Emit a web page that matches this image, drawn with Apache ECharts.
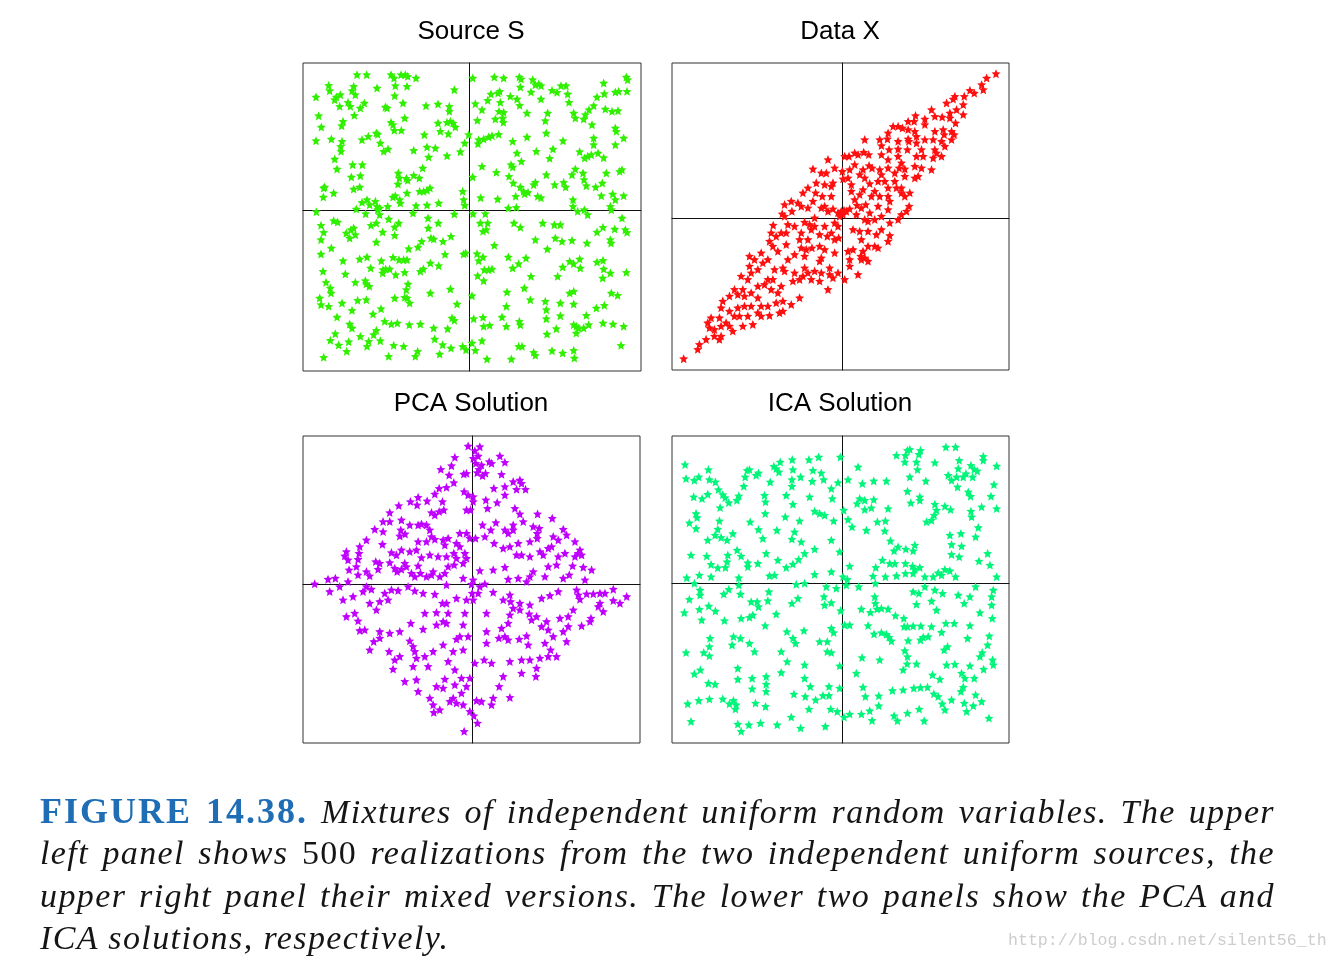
<!DOCTYPE html>
<html>
<head>
<meta charset="utf-8">
<script src="https://cdn.jsdelivr.net/npm/echarts@6/dist/echarts.min.js"></script>
<style>
html,body{margin:0;padding:0;background:#fff;overflow:hidden}
#chart{position:absolute;left:0;top:0;width:1339px;height:959px}
#cap{position:absolute;left:40px;top:790px;width:1235px;font-family:"Liberation Serif",serif;font-style:italic;font-size:34px;line-height:42.3px;color:#151515;letter-spacing:1.4px}
.ln{white-space:nowrap;height:42.3px}
#cap b{font-style:normal;font-weight:bold;color:#1f6db5;letter-spacing:2px;font-size:36px}
.up{font-style:normal}
#wm{position:absolute;left:1008px;top:931px;font-family:"Liberation Mono",monospace;font-size:16.6px;line-height:20px;color:#cdcdcd;white-space:nowrap}
</style>
</head>
<body>
<div id="chart"></div>
<div id="cap">
<div class="ln"><span><b>FIGURE 14.38.</b> Mixtures of independent uniform random variables. The upper</span></div>
<div class="ln"><span>left panel shows <span class="up">500</span> realizations from the two independent uniform sources, the</span></div>
<div class="ln"><span>upper right panel their mixed versions. The lower two panels show the PCA and</span></div>
<div class="ln last"><span>ICA solutions, respectively.</span></div>
</div>
<div id="wm">http://blog.csdn.net/silent56_th</div>
<script>
const panelTitles = ['Source S', 'Data X', 'PCA Solution', 'ICA Solution'];

const sourceS = [
[-337,407],[-308,407],[-235,407],[-205,407],[-192,407],[-185,402],[-160,397],[-226,397],[-422,375],[-347,372],[-277,367],[-222,374],[-187,372],[-419,359],[-352,359],[-45,362],[-460,340],[-404,332],[-387,347],[-399,340],[-342,347],[-224,344],[-364,324],[-357,312],[-389,312],[-315,322],[-327,307],[-252,310],[-247,307],[-199,322],[-130,314],[-94,319],[-60,312],[-60,297],[-452,284],[-345,285],[-194,277],[-379,267],[-383,254],[-444,250],[-235,264],[-229,257],[-225,240],[-204,240],[-94,262],[-67,264],[-57,267],[-49,262],[-42,250],[-460,209],[-414,214],[-382,207],[-386,192],[-385,177],[-322,212],[-303,222],[-279,232],[-275,228],[-267,202],[-257,177],[-244,184],[-135,227],[-87,237],[-63,230],[-14,202],[-2,227],[-127,190],[-102,187],[-167,180],[-122,160],[-67,164],[-27,176],[-404,154],[-397,124],[-350,137],[-321,137],[-354,100],[-327,104],[-213,112],[-210,97],[-189,96],[-185,90],[-167,105],[-150,97],[-140,127],[-434,70],[-437,67],[-438,40],[-407,52],[-347,64],[-329,70],[-214,79],[-149,57],[-137,57],[-127,60],[-118,67],[-20,57],[-17,32],[-322,24],[-307,32],[-299,17],[-282,27],[-277,12],[-275,2],[-269,7],[-245,12],[-229,40],[-222,44],[-209,32],[-207,22],[-187,52],[-160,14],[-127,16],[-92,22],[-14,15],[-339,4],[-459,-4],[-311,-10],[-269,-13],
[10,397],[75,400],[103,397],[150,400],[155,394],[190,392],[198,377],[208,379],[215,374],[275,374],[290,374],[403,382],[471,400],[475,392],[153,370],[185,355],[248,360],[263,354],[295,349],[91,357],[86,352],[65,349],[438,355],[448,357],[473,357],[405,350],[383,340],[18,320],[38,302],[55,330],[93,324],[123,342],[143,334],[151,315],[215,334],[299,324],[373,314],[359,302],[408,304],[428,297],[446,299],[89,297],[103,294],[100,277],[102,264],[78,274],[24,270],[173,292],[235,292],[228,269],[313,292],[318,277],[343,274],[348,287],[368,257],[438,247],[441,237],[463,217],[438,197],[373,217],[373,197],[28,212],[26,200],[43,214],[58,220],[68,224],[88,228],[130,207],[143,172],[173,220],[231,232],[281,209],[201,177],[251,184],[241,156],[331,176],[346,157],[355,162],[366,167],[386,172],[403,158],[156,147],[38,132],[81,114],[125,137],[130,130],[119,102],[10,100],[132,82],[153,70],[163,57],[176,54],[193,77],[198,84],[231,107],[256,77],[283,84],[289,70],[308,107],[318,124],[341,112],[344,92],[351,74],[379,70],[399,82],[411,112],[451,117],[458,122],[34,38],[85,34],[139,42],[166,50],[205,42],[215,38],[311,32],[311,12],[396,44],[430,49],[438,32],[463,44],[423,12],[426,2],[345,2],[117,7],[141,9],[48,-10],[11,-10],
[-407,-31],[-395,-35],[-445,-45],[-437,-66],[-369,-68],[-355,-58],[-347,-53],[-342,-73],[-359,-83],[-295,-45],[-279,-38],[-242,-26],[-212,-38],[-224,-50],[-260,-65],[-224,-75],[-169,-8],[-124,-23],[-123,-53],[-93,-38],[-115,-83],[-107,-86],[-79,-93],[-55,-78],[-45,-11],[-445,-88],[-445,-131],[-414,-113],[-379,-151],[-329,-146],[-307,-140],[-264,-151],[-279,-95],[-229,-141],[-211,-148],[-197,-148],[-187,-148],[-182,-115],[-154,-110],[-143,-93],[-117,-158],[-92,-166],[-73,-132],[-17,-131],[-11,-128],[-439,-183],[-372,-191],[-296,-173],[-259,-178],[-251,-176],[-239,-176],[-260,-188],[-221,-193],[-194,-186],[-147,-183],[-138,-176],[-430,-216],[-417,-233],[-415,-248],[-342,-216],[-312,-211],[-309,-220],[-300,-228],[-184,-221],[-189,-238],[-194,-261],[-117,-248],[-57,-236],[-449,-263],[-445,-283],[-422,-288],[-382,-278],[-335,-270],[-309,-268],[-352,-300],[-265,-295],[-224,-263],[-187,-263],[-179,-278],[-37,-281],[-397,-320],[-289,-311],[-359,-341],[-352,-353],[-254,-333],[-234,-341],[-216,-338],[-180,-343],[-147,-341],[-107,-353],[-65,-355],[-52,-323],[-45,-330],[-402,-370],[-417,-390],[-392,-404],[-368,-423],[-362,-394],[-327,-378],[-307,-408],[-302,-393],[-287,-373],[-279,-360],[-267,-391],[-227,-405],[-197,-408],[-155,-423],[-162,-438],[-242,-438],[-104,-386],[-80,-403],[-89,-431],[-55,-413],[-20,-408],[-10,-418],[-437,-441],
[33,-38],[41,-63],[51,-58],[55,-38],[134,-38],[153,-51],[220,-38],[255,-43],[273,-43],[325,-3],[355,-13],[458,-23],[436,-56],[401,-51],[383,-65],[468,-58],[473,-66],[198,-88],[258,-83],[278,-93],[308,-90],[353,-98],[423,-88],[425,-98],[75,-105],[234,-116],[23,-130],[28,-151],[41,-140],[117,-140],[130,-173],[148,-160],[170,-143],[45,-178],[58,-178],[68,-176],[25,-196],[43,-211],[113,-245],[185,-198],[165,-233],[265,-198],[280,-170],[301,-153],[313,-160],[331,-146],[333,-173],[383,-155],[401,-150],[403,-176],[400,-203],[423,-188],[471,-186],[8,-256],[183,-268],[228,-273],[231,-298],[273,-278],[273,-316],[313,-281],[301,-248],[313,-243],[351,-315],[381,-293],[405,-285],[426,-248],[445,-255],[13,-325],[41,-321],[43,-348],[61,-345],[98,-320],[111,-348],[111,-288],[150,-333],[153,-343],[231,-325],[261,-355],[313,-343],[321,-348],[328,-353],[343,-353],[358,-343],[401,-338],[431,-341],[463,-348],[8,-398],[18,-420],[38,-391],[53,-446],[126,-446],[148,-408],[158,-408],[193,-426],[198,-435],[233,-371],[248,-421],[280,-428],[313,-420],[315,-443],[321,-368],[455,-405]
];

const dataX = [
[460,433],[432,420],[417,400],[422,385],[382,383],[395,375],[337,365],[332,357],[365,365],[312,345],[362,340],[342,325],[267,325],[277,305],[322,315],[322,300],[362,310],[219,307],[215,290],[247,297],[299,303],[339,285],[327,260],[335,250],[302,265],[305,250],[277,260],[247,280],[197,290],[152,275],[167,275],[180,270],[197,265],[217,260],[137,255],[112,235],[135,237],[117,217],[140,205],[167,207],[197,237],[199,230],[222,225],[247,235],[272,235],[297,230],[327,235],[307,215],[277,205],[282,195],[297,185],[272,180],[242,185],[222,185],[195,205],[167,185],[117,190],[67,235],[64,197],[47,190],[37,195],[20,185],[7,185],[79,190],[89,150],[62,145],[37,160],[22,145],[52,130],[67,120],[80,157],[112,145],[137,150],[170,150],[187,147],[217,155],[237,150],[267,145],[227,125],[217,120],[187,125],[157,110],[137,90],[107,110],[117,130],[82,103],[62,85],[52,70],[27,80],[17,120],[2,117],[0,140],[27,100],[97,80],[112,65],[137,65],[142,50],[162,90],[177,75],[187,65],[200,35],[192,20],[177,10],[167,-5],[137,25],[142,-15],[107,35],[82,15],[77,-10],[67,-5],[42,10],[44,38],[70,40],[22,27],[12,20],[2,10],[5,23],[-8,5],[32,-35],[52,-40],[77,-40],[102,-50],[117,-35],[142,-53],[137,-70],[97,-85],[107,-90],[77,-85],[62,-100],[55,-115],[67,-120],[77,-130],[57,-125],[32,-95],[17,-100],[22,-125],[22,-145],[47,-170],[7,-185],
[-43,175],[-88,147],[-63,135],[-48,135],[-23,150],[-28,105],[-33,95],[-53,100],[-78,105],[-103,90],[-80,75],[-118,75],[-133,45],[-153,50],[-173,40],[-180,12],[-151,20],[-123,35],[-103,30],[-88,50],[-60,65],[-33,65],[-53,35],[-63,30],[-43,20],[-28,27],[-13,15],[-3,20],[-23,-15],[-13,-25],[-11,-60],[-23,-65],[-45,-55],[-68,-50],[-83,-25],[-93,-35],[-113,-13],[-123,-45],[-103,-65],[-91,-90],[-108,-95],[-123,-90],[-163,-20],[-168,-45],[-207,-22],[-213,-45],[-198,-55],[-183,-45],[-218,-70],[-208,-85],[-193,-100],[-168,-80],[-143,-110],[-113,-115],[-63,-120],[-68,-130],[-83,-160],[-103,-165],[-113,-150],[-118,-175],[-93,-185],[-63,-165],[-38,-170],[-28,-180],[-13,-165],[-38,-150],[-43,-215],[-68,-190],[-278,-115],[-263,-125],[-238,-135],[-243,-105],[-278,-145],[-273,-165],[-303,-175],[-283,-185],[-253,-205],[-233,-200],[-223,-185],[-208,-185],[-213,-215],[-183,-205],[-193,-225],[-173,-160],[-178,-150],[-203,-155],[-148,-190],[-128,-185],[-128,-240],[-153,-260],[-178,-250],[-198,-255],[-188,-285],[-218,-293],[-223,-265],[-243,-265],[-253,-240],[-273,-225],[-293,-235],[-298,-215],[-313,-230],[-338,-235],[-358,-250],[-363,-270],[-338,-280],[-313,-270],[-308,-295],[-283,-295],[-273,-265],[-253,-285],[-243,-295],[-268,-320],[-298,-325],[-328,-340],[-338,-325],[-348,-315],[-368,-300],[-393,-300],[-363,-325],[-398,-330],[-383,-335],[-368,-365],[-363,-355],[-383,-355],[-408,-365],[-428,-380],[-433,-395],[-475,-423],[-178,-280],
[-53,-25],[-33,-45],[-68,-85],[-53,-95],[-23,-105],[-83,0],[-98,-20],[-143,-25],[-128,-65],[-173,5],[137,175],[177,165],[157,135],[127,110],[177,90],[202,75],[237,205],[222,245],[167,230],[87,65],[37,55],[57,30],[117,5],[97,-5],[57,-65],[-223,-125],[-253,-155],[-163,-125],[-143,-165],[-323,-215],[-293,-265],[-323,-295],[-403,-315]
];

const pcaSolution = [
[-12,415],[23,413],[8,401],[18,385],[3,378],[11,363],[28,358],[20,345],[15,335],[31,326],[40,333],[51,368],[58,363],[83,385],[98,366],[88,330],[-52,381],[-62,356],[-94,345],[-69,328],[-25,331],[-17,333],[-55,305],[-77,291],[-99,288],[-112,271],[-135,250],[-162,261],[-165,238],[-185,248],[-220,236],[-247,215],[-267,188],[-292,165],[-267,158],[-247,188],[-212,193],[-214,163],[-217,145],[-201,151],[-187,178],[-162,178],[-152,181],[-137,178],[-127,163],[-122,143],[-112,135],[-137,128],[-162,128],[-167,103],[-187,98],[-212,103],[-227,88],[-242,95],[-269,120],[-317,133],[-337,113],[-339,93],[-377,98],[-382,85],[-372,73],[-342,75],[-369,43],[-347,53],[-342,28],[-317,38],[-307,25],[-282,45],[-277,63],[-289,68],[-247,65],[-232,48],[-225,38],[-212,45],[-197,53],[-182,33],[-172,23],[-155,33],[-137,23],[-122,28],[-117,38],[-97,23],[-82,33],[-72,53],[-54,58],[-47,78],[-27,63],[-17,78],[-22,93],[-37,113],[-47,123],[-37,153],[-17,153],[-7,138],[-72,138],[-87,133],[-82,118],[-55,93],[-77,83],[-102,83],[-127,88],[-152,80],[-162,55],[-202,63],[-99,218],[-112,208],[-122,215],[-89,248],[-85,223],[-24,278],[-12,268],[3,263],[-17,223],[-5,223],[3,248],[41,253],[46,228],[75,245],[98,268],[98,293],[65,288],[123,308],[143,313],[148,303],[133,285],[160,285],[128,228],[143,211],[153,188],[196,211],[240,198],[183,173],[201,168],[195,153],[195,138],[173,128],[123,163],[108,153],[123,178],[98,163],[71,185],[56,163],[31,178],[38,143],[10,138],[66,123],[93,108],[113,113],[138,123],[133,88],[148,88],[173,83],[203,98],[213,88],[228,108],[243,143],[258,133],[273,165],[283,148],[308,128],[323,103],[308,83],[318,93],[328,88],[278,93],[258,83],[228,53],[253,58],[238,113],[273,18],[291,28],[301,55],[333,51],[358,43],[338,13],[218,23],[183,38],[173,23],[163,8],[138,18],[108,15],[98,51],[63,43],[23,41],[3,13],[-2,0],[-27,18],[38,1],
[-472,1],[-432,15],[-410,18],[-427,-22],[-397,-7],[-372,8],[-387,-47],[-357,-37],[-317,-7],[-327,-22],[-302,-15],[-307,-57],[-287,-77],[-277,-52],[-252,-47],[-262,-27],[-242,-17],[-222,-19],[-192,-7],[-172,-20],[-147,-27],[-112,-30],[-77,-2],[-89,-57],[-77,-57],[-47,-42],[-17,-47],[3,-47],[0,-27],[18,-27],[63,-24],[93,-47],[113,-32],[115,-52],[143,-57],[173,-62],[208,-42],[233,-34],[258,-22],[313,-17],[318,-32],[323,-45],[343,-29],[363,-29],[383,-27],[398,-27],[423,-15],[423,-49],[443,-57],[463,-37],[383,-57],[378,-67],[393,-82],[356,-102],[353,-112],[328,-125],[303,-77],[288,-97],[263,-102],[288,-127],[273,-142],[283,-172],[243,-157],[228,-137],[223,-112],[208,-127],[193,-97],[178,-107],[171,-89],[143,-77],[123,-72],[113,-92],[108,-117],[88,-132],[80,-162],[98,-157],[108,-167],[141,-165],[163,-155],[168,-182],[218,-177],[235,-197],[253,-217],[228,-217],[203,-222],[193,-252],[173,-227],[148,-227],[113,-232],[148,-267],[191,-277],[93,-277],[81,-307],[113,-340],[63,-342],[58,-362],[28,-352],[13,-349],[58,-237],[36,-227],[8,-237],[43,-177],[43,-142],[43,-87],[-22,-87],[-27,-122],[-37,-157],[-12,-157],[-47,-165],[-77,-117],[-107,-122],[-87,-112],[-72,-87],[-107,-85],[-142,-87],[-184,-117],[-147,-135],[-187,-170],[-177,-187],[-172,-202],[-167,-222],[-142,-217],[-132,-247],[-177,-247],[-217,-217],[-232,-227],[-237,-255],[-249,-202],[-217,-142],[-247,-147],[-277,-142],[-277,-162],[-295,-172],[-322,-137],[-337,-139],[-342,-110],[-352,-87],[-377,-97],[-307,-197],[-117,-202],[-87,-182],[-57,-202],[-27,-197],[-72,-232],[-52,-257],[-82,-285],[-52,-302],[-32,-282],[-7,-282],[-17,-307],[-32,-327],[-57,-342],[-67,-352],[-47,-357],[-27,-362],[-107,-307],[-87,-312],[-127,-342],[-117,-362],[-97,-377],[-115,-385],[-162,-322],[-167,-287],[-202,-292],[-7,-382],[5,-395],[16,-417],[-24,-442],[23,-7]
];

const icaSolution = [
[-471,357],[-468,315],[-443,310],[-430,320],[-401,342],[-398,312],[-380,305],[-371,282],[-358,267],[-351,258],[-340,243],[-316,250],[-310,263],[-295,292],[-285,340],[-278,342],[-291,320],[-258,325],[-251,332],[-216,305],[-205,352],[-198,345],[-190,335],[-186,365],[-150,372],[-148,342],[-151,312],[-125,320],[-151,292],[-100,372],[-71,380],[-88,340],[-63,332],[-90,307],[-56,312],[-33,285],[-13,303],[-6,380],[-445,260],[-420,255],[-403,268],[-366,228],[-438,210],[-435,198],[-458,182],[-438,165],[-368,188],[-373,163],[-381,145],[-403,130],[-363,138],[-345,130],[-328,150],[-276,185],[-251,162],[-238,135],[-231,210],[-230,245],[-233,265],[-168,265],[-196,160],[-171,200],[-148,238],[-128,188],[-143,155],[-151,133],[-123,125],[-98,260],[-83,217],[-68,210],[-53,205],[-26,188],[-33,130],[-30,255],[-453,85],[-406,82],[-393,57],[-373,47],[-350,48],[-343,85],[-345,65],[-315,100],[-303,82],[-283,62],[-283,50],[-253,60],[-228,90],[-193,70],[-168,48],[-148,58],[-131,72],[-113,90],[-83,103],[-8,95],[-466,17],[-428,25],[-393,20],[-310,17],[-310,-5],[-218,23],[-203,25],[-138,-3],[-113,0],[-83,27],[-33,35],[4,220],[2,20],
[17,312],[47,350],[60,300],[94,308],[132,308],[162,385],[187,365],[189,385],[195,400],[202,403],[222,365],[234,400],[229,388],[225,342],[202,320],[195,277],[232,260],[232,250],[205,242],[250,308],[277,363],[310,410],[339,410],[350,370],[347,345],[342,320],[362,320],[370,330],[327,310],[317,325],[385,355],[395,343],[404,338],[422,382],[422,370],[462,353],[390,320],[345,290],[377,275],[384,262],[454,297],[445,262],[417,230],[462,225],[277,238],[307,232],[324,222],[282,220],[275,205],[267,190],[252,185],[385,217],[387,200],[407,168],[399,140],[355,150],[322,145],[327,117],[357,112],[327,87],[350,80],[409,67],[435,90],[442,55],[462,20],[17,192],[29,170],[44,240],[52,255],[67,250],[94,252],[67,222],[87,227],[137,225],[105,185],[129,188],[127,158],[72,160],[144,128],[167,110],[155,98],[190,103],[212,98],[217,115],[120,70],[142,60],[157,60],[189,60],[210,52],[217,42],[232,48],[212,30],[247,20],[272,20],[287,32],[297,25],[307,42],[322,38],[339,20],[22,52],[100,48],[92,22],[129,20],[162,23],[189,30],[15,12],[12,-5],[49,-10],[99,0],
[-443,0],[-426,-20],[-426,-35],[-458,-48],[-473,-88],[-428,-78],[-421,-110],[-400,-68],[-380,-83],[-355,-32],[-340,-18],[-305,-32],[-273,-55],[-255,-55],[-251,-70],[-268,-95],[-278,-102],[-303,-105],[-353,-112],[-220,-25],[-223,-52],[-198,-92],[-231,-127],[-151,-60],[-133,-45],[-55,-40],[-33,-58],[-48,-10],[-18,-15],[-53,-65],[-33,-135],[-26,-148],[-5,-82],[-396,-165],[-398,-190],[-415,-208],[-398,-218],[-468,-208],[-326,-160],[-305,-165],[-330,-185],[-278,-180],[-263,-205],[-183,-205],[-166,-145],[-148,-165],[-140,-180],[-115,-142],[-68,-175],[-45,-175],[-45,-205],[-33,-208],[-8,-248],[-165,-235],[-113,-245],[-443,-272],[-425,-260],[-401,-300],[-381,-303],[-313,-255],[-313,-288],[-270,-285],[-270,-317],[-228,-280],[-228,-303],[-228,-325],[-183,-268],[-113,-285],[-96,-310],[-145,-333],[-111,-340],[-80,-350],[-58,-337],[-40,-337],[-40,-310],[-8,-315],[-463,-362],[-430,-352],[-398,-348],[-358,-347],[-338,-362],[-326,-352],[-318,-365],[-320,-378],[-260,-360],[-230,-370],[-153,-402],[-100,-378],[-35,-378],[-15,-385],[-453,-415],[-313,-423],[-303,-445],[-280,-425],[-245,-420],[-195,-425],[-125,-435],[-51,-430],
[57,-77],[84,-87],[97,-40],[99,-60],[104,-77],[117,-75],[137,-77],[159,-97],[184,-105],[212,-25],[222,-63],[229,-30],[247,-10],[267,-53],[277,-20],[282,-80],[300,-30],[347,-35],[365,-60],[382,-40],[399,-10],[412,-88],[447,-40],[447,-65],[449,-105],[452,-20],[7,-125],[22,-125],[77,-127],[95,-152],[117,-148],[132,-153],[140,-162],[147,-173],[185,-130],[195,-130],[212,-128],[235,-128],[267,-130],[234,-170],[197,-172],[242,-162],[257,-160],[297,-147],[310,-120],[335,-120],[382,-127],[375,-165],[440,-158],[435,-185],[419,-208],[412,-220],[450,-230],[315,-190],[305,-200],[187,-202],[195,-220],[194,-242],[222,-242],[182,-260],[59,-223],[112,-230],[42,-270],[62,-312],[69,-340],[109,-338],[109,-368],[82,-383],[57,-393],[22,-393],[5,-402],[89,-412],[150,-322],[182,-320],[214,-315],[234,-313],[255,-312],[274,-332],[287,-340],[299,-362],[307,-380],[327,-350],[355,-325],[362,-312],[367,-285],[382,-248],[395,-285],[423,-258],[452,-245],[399,-335],[417,-355],[392,-368],[365,-360],[372,-385],[270,-275],[292,-288],[312,-245],[337,-243],[357,-270],[230,-378],[195,-390],[155,-398],[165,-413],[245,-413],[439,-405]
];

const seriesData = [sourceS, dataX, pcaSolution, icaSolution];
const colors = ['#30f000', '#ff1010', '#bf00ff', '#00f57a'];

// panel layout (pixels) and axis ranges
const layout = [
  {left:303, top:63, width:338, height:308, x:[-499,515], y:[-482,442], tx:471, ty:32},
  {left:672, top:63, width:337, height:307, x:[-510,499], y:[-457,465], tx:840, ty:32},
  {left:303, top:436, width:337, height:307, x:[-507,503], y:[-477,445], tx:471, ty:404},
  {left:672, top:436, width:337, height:307, x:[-510,499], y:[-480,443], tx:840, ty:404}
];

const STAR = 'path://M50,0 L63.5,31.4 L97.6,34.6 L71.9,57.1 L79.4,90.5 L50,73 L20.6,90.5 L28.1,57.1 L2.4,34.6 L36.5,31.4 Z';

const chart = echarts.init(document.getElementById('chart'), null, {renderer:'canvas'});
const axisCommon = {
  type:'value', scale:false,
  axisLine:{show:true, onZero:true, lineStyle:{color:'#111', width:1}},
  axisTick:{show:false}, axisLabel:{show:false}, splitLine:{show:false}
};
chart.setOption({
  backgroundColor:'#fff',
  animation:false,
  grid: layout.map(g => ({left:g.left, top:g.top, width:g.width, height:g.height, show:true, borderColor:'#333', borderWidth:1, backgroundColor:'transparent'})),
  xAxis: layout.map((g,i) => Object.assign({}, axisCommon, {gridIndex:i, min:g.x[0], max:g.x[1]})),
  yAxis: layout.map((g,i) => Object.assign({}, axisCommon, {gridIndex:i, min:g.y[0], max:g.y[1]})),
  graphic: layout.map((g,i) => ({
    type:'text', x:g.tx, y:g.ty, silent:true,
    style:{text:panelTitles[i], font:'26px "Liberation Sans", Arial, sans-serif', fill:'#000', textAlign:'center', textVerticalAlign:'middle'}
  })),
  series: seriesData.map((d,i) => ({
    type:'scatter', xAxisIndex:i, yAxisIndex:i, data:d,
    symbol:STAR, symbolSize:9, itemStyle:{color:colors[i], opacity:1}, silent:true, large:false, z:3
  }))
});

// justify caption lines
document.querySelectorAll('#cap .ln:not(.last) > span').forEach(s => {
  const w = s.getBoundingClientRect().width;
  const n = (s.textContent.match(/ /g) || []).length;
  if (n > 0) s.style.wordSpacing = ((1235 - w) / n) + 'px';
});
</script>
</body>
</html>
